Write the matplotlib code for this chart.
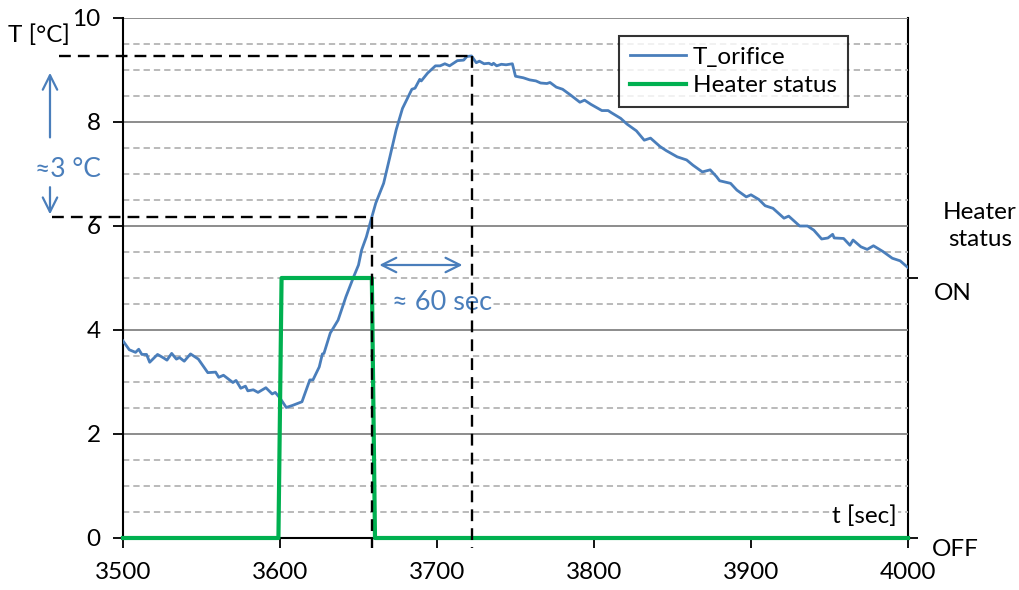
import numpy as np
import matplotlib
matplotlib.use("Agg")
import matplotlib.pyplot as plt

plt.rcParams["font.family"] = ["Lato", "DejaVu Sans"]

# T_orifice readings (time in s, temperature in degC)
time_s = [3500, 3504, 3508, 3510, 3512, 3515, 3517, 3522, 3526, 3528, 3531, 3534, 3536,
          3539, 3543, 3548, 3554, 3559, 3561, 3564, 3567, 3570, 3572, 3575, 3578, 3579.5,
          3583, 3586, 3591, 3595, 3597, 3600, 3604, 3608, 3614, 3619, 3621, 3625, 3627,
          3628, 3632, 3637, 3642, 3647, 3650, 3652, 3655, 3658, 3661, 3666, 3670, 3674,
          3678, 3684, 3686, 3689, 3690, 3694, 3699, 3702, 3705, 3708, 3713, 3717, 3719,
          3722, 3725, 3727, 3730, 3733, 3735, 3736, 3738, 3741, 3744, 3748, 3750, 3755,
          3759, 3763, 3766, 3770, 3772, 3776, 3780, 3785, 3791, 3794, 3798, 3805, 3809,
          3811, 3817, 3821, 3827, 3832, 3836, 3842, 3846, 3853, 3859, 3863, 3869, 3874,
          3878, 3880, 3887, 3891, 3897, 3900, 3905, 3909, 3914, 3921, 3924, 3931, 3936,
          3940, 3945, 3949, 3952, 3953, 3959, 3963, 3965, 3970, 3974, 3978, 3984, 3990,
          3995, 4000]
t_orifice = [3.79, 3.62, 3.57, 3.63, 3.53, 3.53, 3.38, 3.53, 3.46, 3.42, 3.55, 3.44, 3.47,
             3.40, 3.54, 3.44, 3.18, 3.19, 3.09, 3.13, 3.06, 2.99, 3.03, 2.88, 2.92, 2.83,
             2.85, 2.80, 2.89, 2.77, 2.80, 2.69, 2.51, 2.55, 2.62, 3.04, 3.04, 3.29, 3.54,
             3.55, 3.94, 4.19, 4.64, 5.03, 5.25, 5.54, 5.79, 6.12, 6.44, 6.82, 7.33, 7.85,
             8.26, 8.63, 8.65, 8.82, 8.79, 8.94, 9.08, 9.08, 9.12, 9.08, 9.18, 9.19, 9.26,
             9.27, 9.14, 9.17, 9.12, 9.13, 9.10, 9.13, 9.08, 9.11, 9.10, 9.12, 8.88, 8.85,
             8.81, 8.79, 8.75, 8.74, 8.76, 8.67, 8.63, 8.52, 8.38, 8.42, 8.34, 8.22, 8.22,
             8.18, 8.07, 7.96, 7.83, 7.65, 7.69, 7.53, 7.45, 7.33, 7.27, 7.17, 7.04, 7.08,
             6.95, 6.87, 6.82, 6.69, 6.56, 6.60, 6.51, 6.39, 6.34, 6.15, 6.19, 6.00, 6.00,
             5.92, 5.75, 5.77, 5.84, 5.77, 5.76, 5.63, 5.73, 5.60, 5.55, 5.62, 5.51, 5.38,
             5.33, 5.20]

# heater status (0 = OFF, 1 = ON)
heater_time = [3500, 3599, 3601, 3658.5, 3660.5, 4000]
heater_on = [0, 0, 1, 1, 0, 0]
status_labels = ["OFF", "ON"]

BLUE = "#4a7ebb"
GREEN = "#00b050"
W, H = 1020, 590
FS = 17.5


def px(x, y):
    return x / W, 1 - y / H


fig = plt.figure(figsize=(W / 100, H / 100), dpi=100)
ax = fig.add_axes([123 / W, 52 / H, 785 / W, 520 / H])
ax2 = ax.twinx()
ax.set_zorder(ax2.get_zorder() + 1)
ax.patch.set_visible(False)

t = np.array(time_s)
temp = np.array(t_orifice)
ax.plot(t, temp, color=BLUE, lw=2.0, label="T_orifice", zorder=4)
# heater drawn in the temperature scale: ON sits at 5
ax.plot(heater_time, np.array(heater_on) * 5, color=GREEN, lw=3.0,
        label="Heater status", zorder=5, clip_on=False)

ax.set_xlim(3500, 4000)
ax.set_ylim(0, 10)
ax.set_xticks(range(3500, 4001, 100))
ax.set_yticks(range(0, 11, 2))
ax.set_yticks(np.arange(0, 10.01, 0.5), minor=True)
ax.tick_params(axis="both", which="major", labelsize=FS, direction="out",
               length=7, width=1.3, color="black")
ax.tick_params(axis="y", which="major", pad=9)
ax.tick_params(axis="x", which="major", pad=10)
ax.tick_params(axis="y", which="minor", length=0)
ax.grid(True, which="major", axis="y", color="#8c8c8c", lw=1.4)
ax.grid(True, which="minor", axis="y", color="#b4b4b4", lw=1.3, ls=(0, (3.5, 2.2)))
ax.set_axisbelow(True)
for side in ["top", "right"]:
    ax.spines[side].set_visible(False)
for side in ["left", "bottom"]:
    ax.spines[side].set_linewidth(1.5)

ax2.set_ylim(0, 10)
ax2.set_yticks([0, 5])
ax2.set_yticklabels(["", ""])
ax2.tick_params(axis="y", length=7, width=1.3, direction="out")
for side in ["top", "left", "bottom"]:
    ax2.spines[side].set_visible(False)
ax2.spines["right"].set_linewidth(1.5)

# reference lines derived from the data
t_off = heater_time[3]
T_off = np.interp(t_off, t, temp)
i_peak = int(np.argmax(temp))
t_peak, T_peak = t[i_peak], temp[i_peak]
dash = dict(color="black", lw=1.7, ls=(0, (5, 3)), clip_on=False, zorder=6)
ax.plot([3459, t_peak], [T_peak, T_peak], **dash)
ax.plot([t_peak, t_peak], [T_peak, -0.2], **dash)
ax.plot([3455, t_off], [T_off, T_off], **dash)
ax.plot([t_off, t_off], [T_off, -0.2], **dash)

arrow = dict(arrowstyle="->", color=BLUE, lw=1.6, mutation_scale=26)
ax.annotate("", xy=(3453.5, 9.0), xytext=(3453.5, 7.65), arrowprops=arrow,
            annotation_clip=False)
ax.annotate("", xy=(3453.5, 6.17), xytext=(3453.5, 6.8), arrowprops=arrow,
            annotation_clip=False)
ax.annotate("", xy=(t_peak - 4, 5.25), xytext=(t_off + 3, 5.25),
            arrowprops=dict(arrowstyle="<->", color=BLUE, lw=1.6, mutation_scale=26))
ax.text(3465, 7.08, "≈3 °C", color=BLUE, fontsize=19, ha="center", va="center",
        clip_on=False)
ax.text(3703, 4.52, "≈ 60 sec", color=BLUE, fontsize=19.5, ha="center", va="center",
        bbox=dict(fc="white", ec="none", pad=1), zorder=3)
ax.text(3993, 0.41, "t [sec]", fontsize=FS, ha="right", va="center",
        bbox=dict(fc="white", ec="none", pad=1), zorder=3)

fig.text(*px(39, 35), "T [°C]", fontsize=FS, ha="center", va="center")
fig.text(*px(980, 226), "Heater\nstatus", fontsize=FS, ha="center", va="center",
         linespacing=1.3)
fig.text(*px(953, 293), status_labels[1], fontsize=FS, ha="center", va="center")
fig.text(*px(955, 550), status_labels[0], fontsize=FS, ha="center", va="center")

leg = ax.legend(loc="upper right", bbox_to_anchor=(848 / W, 1 - 36 / H),
                bbox_transform=fig.transFigure, fontsize=FS, frameon=True,
                fancybox=False, edgecolor="black", handlelength=2.3,
                handletextpad=0.3, borderpad=0.45, labelspacing=0.3,
                borderaxespad=0)
leg.get_frame().set_linewidth(1.5)

fig.savefig("out.png", dpi=100)
